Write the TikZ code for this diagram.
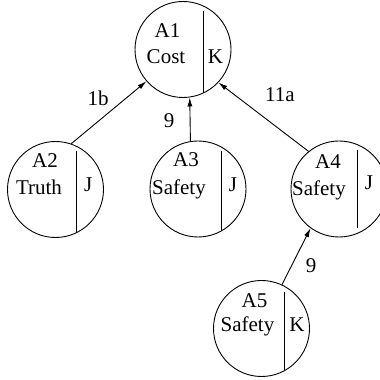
\documentclass[tikz,border=0pt]{standalone}
\usepackage{fontspec}
\setmainfont{Liberation Serif}
\usetikzlibrary{arrows.meta}
\tikzset{
  ball/.style={circle, draw, line width=0.9pt, minimum size=96pt, inner sep=0pt},
  lbl/.style={font=\fontsize{21}{25}\selectfont, anchor=base, inner sep=0pt},
  elbl/.style={font=\fontsize{21}{25}\selectfont, anchor=center, inner sep=0pt},
  divider/.style={line width=0.9pt},
  arr/.style={-{Latex[length=9pt,width=5pt]}, line width=0.9pt}
}
\begin{document}
\begin{tikzpicture}[x=1pt,y=1pt]
\useasboundingbox (0,0) rectangle (380,380);
% circles
\node[ball] (A1) at (183,330.5) {};
\node[ball] (A2) at (55.5,190.5) {};
\node[ball] (A3) at (198,191) {};
\node[ball] (A4) at (339,191) {};
\node[ball] (A5) at (261.5,51.5) {};
% dividers
\draw[divider] (203,369) -- (203,286.9);
\draw[divider] (76,229) -- (76,147.1);
\draw[divider] (221,229) -- (221,148.9);
\draw[divider] (357.5,230) -- (357.5,152);
\draw[divider] (284.5,88.3) -- (284.5,9.8);
% texts
\node[lbl] (t1a) at (167.5,342) {A1};
\node[lbl] (t1b) at (166,316) {Cost};
\node[lbl] (t1c) at (215.5,316) {K};
\node[lbl] (t2a) at (45,212) {A2};
\node[lbl] (t2b) at (39,185) {Truth};
\node[lbl] (t2c) at (88.3,188) {J};
\node[lbl] (t3a) at (186,213.3) {A3};
\node[lbl] (t3b) at (179,185.5) {Safety};
\node[lbl] (t3c) at (233,188) {J};
\node[lbl] (t4a) at (328,211.7) {A4};
\node[lbl] (t4b) at (319,184) {Safety};
\node[lbl] (t4c) at (369,190) {J};
\node[lbl] (t5a) at (254.5,72) {A5};
\node[lbl] (t5b) at (247.5,48) {Safety};
\node[lbl] (t5c) at (297,48) {K};
% arrows
\draw[arr] (A2.71.6) -- (A1.221.6);
\draw[arr] (A3.99.7) -- (A1.278.4);
\draw[arr] (A4.129.6) -- (A1.317.9);
\draw[arr] (A5.65.1) -- (A4.234.3);
% arrow labels
\node[elbl] (l1) at (98,282) {1b};
\node[elbl] (l2) at (169,259.5) {9};
\node[elbl] (l3) at (280,285) {11a};
\node[elbl] (l4) at (311,114) {9};
\end{tikzpicture}
\end{document}
